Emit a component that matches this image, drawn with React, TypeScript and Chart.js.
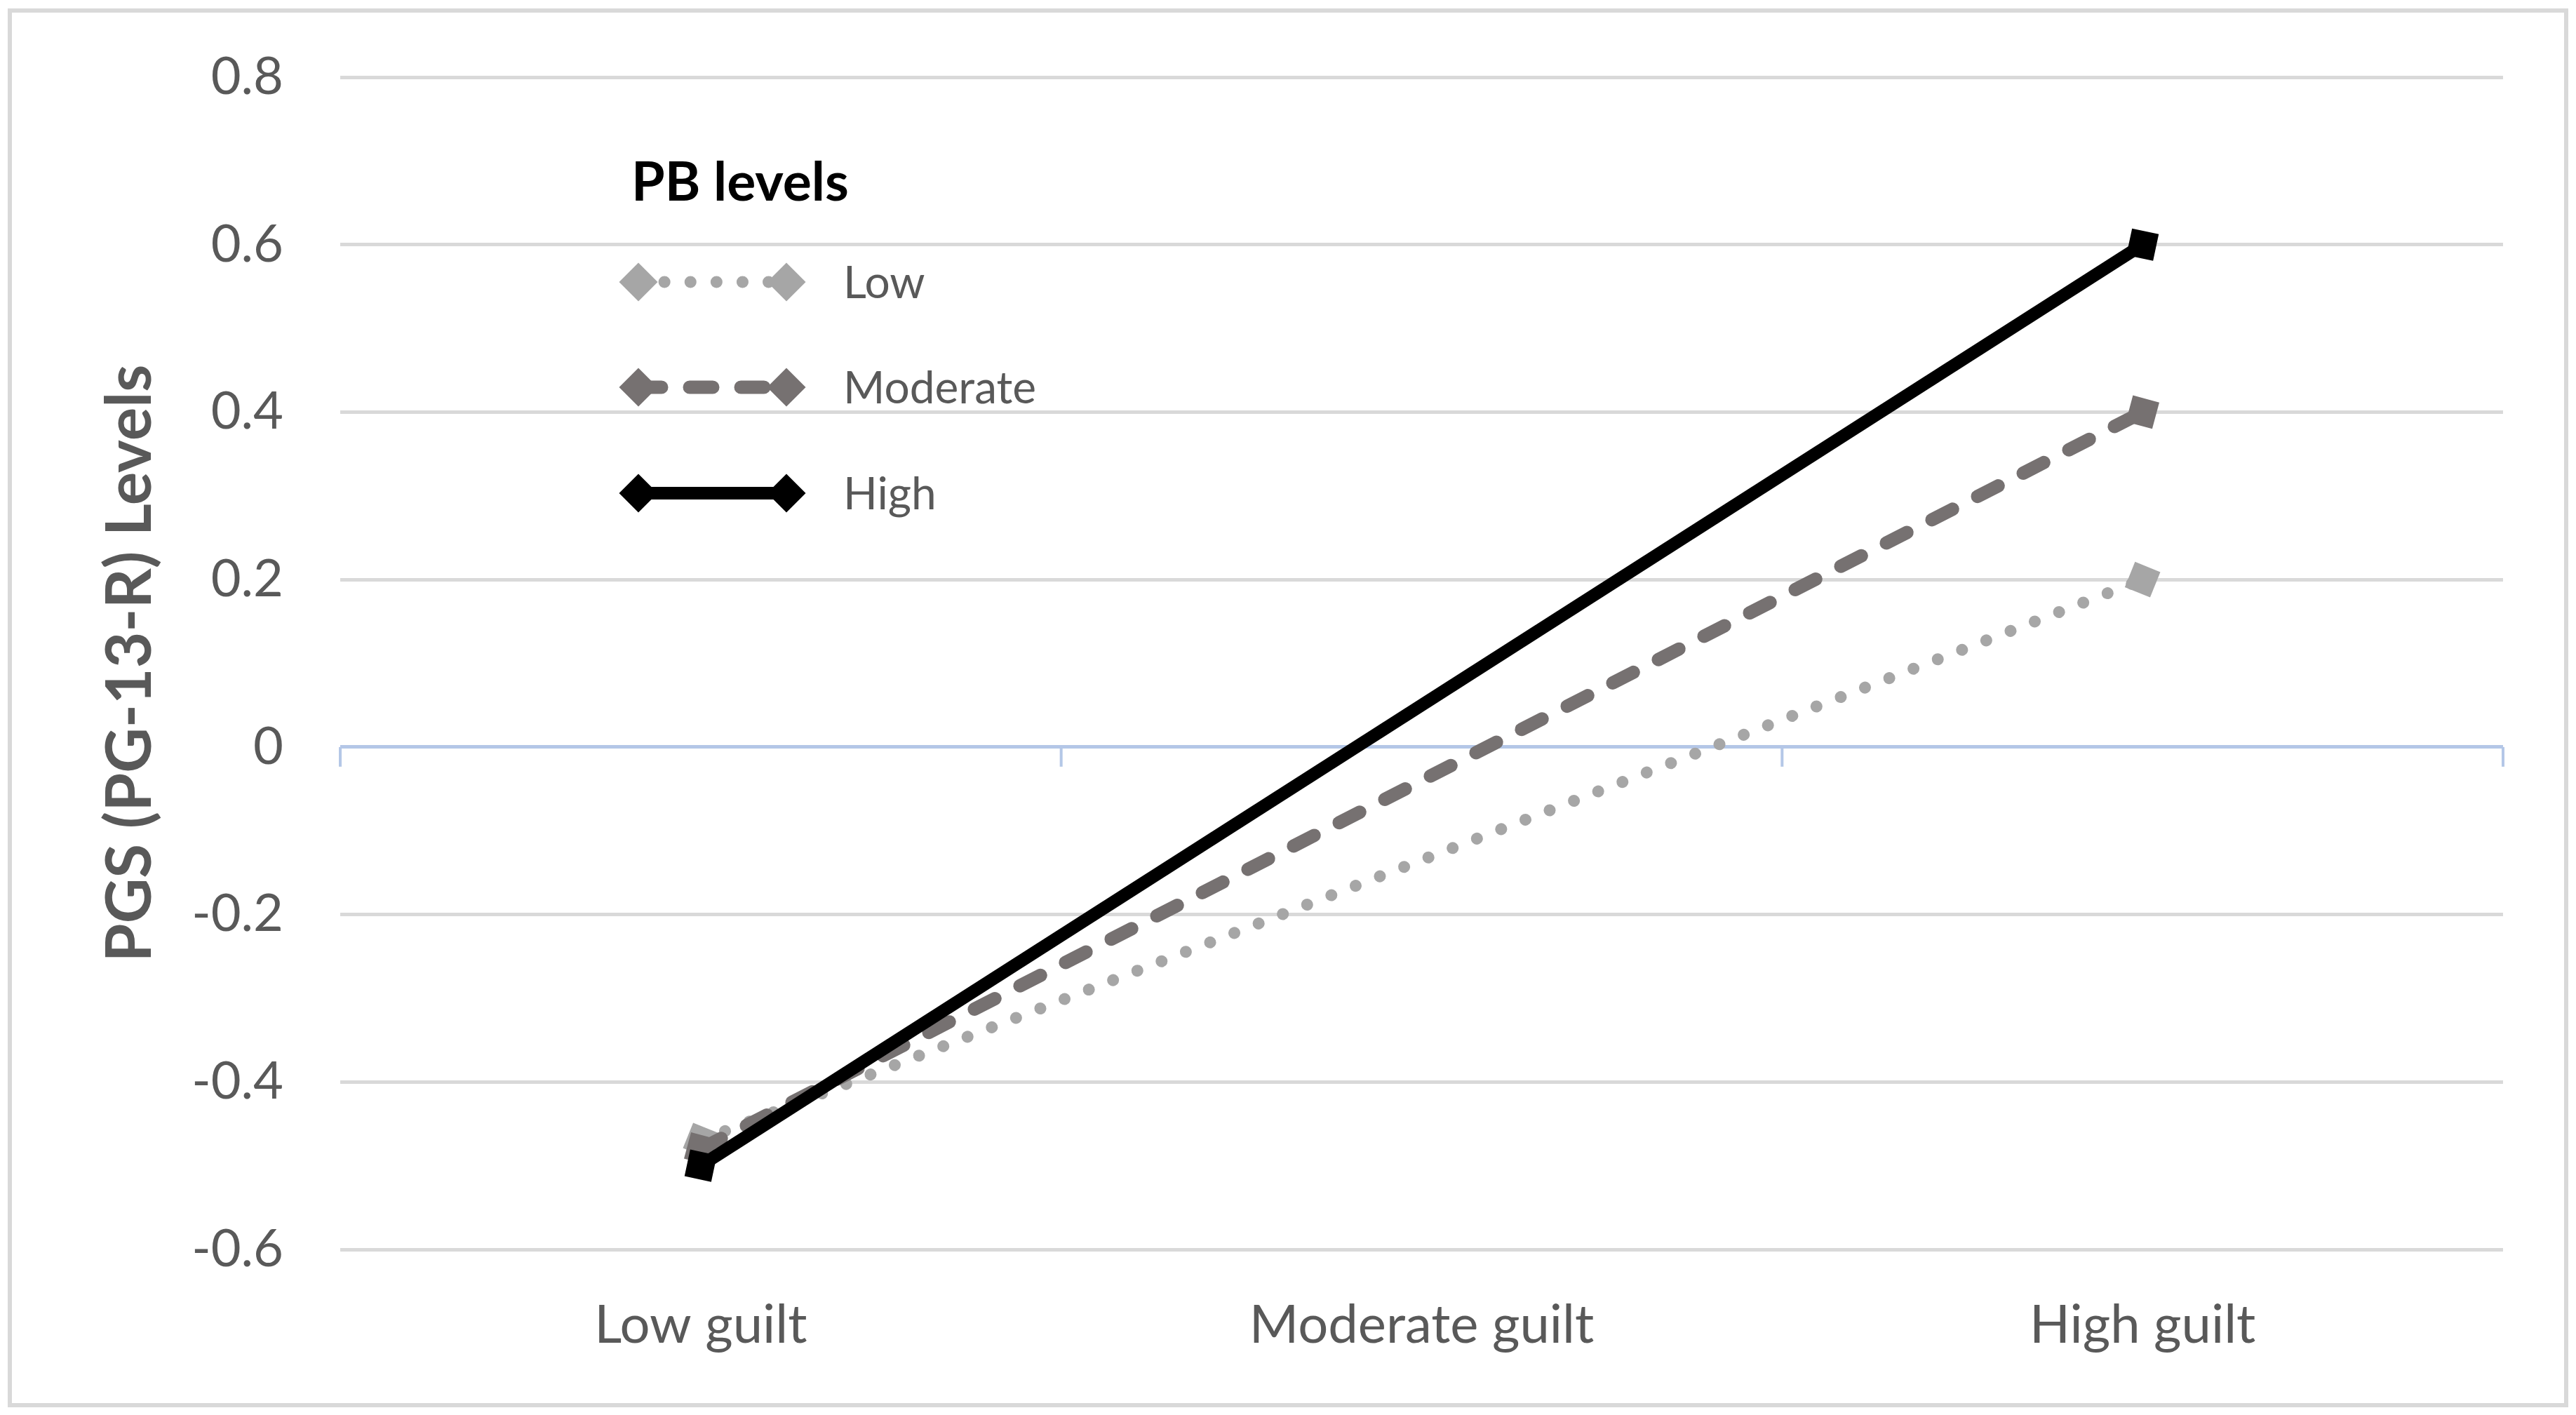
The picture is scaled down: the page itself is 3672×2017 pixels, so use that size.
import { useEffect, useRef } from 'react';
import { Chart, registerables } from 'chart.js';

Chart.register(...registerables);

// ---- data ----
const categories = ['Low guilt', 'Moderate guilt', 'High guilt'];
const seriesNames = ['Low', 'Moderate', 'High'];
const lowValues = [-0.47, null, 0.2];
const moderateValues = [-0.48, null, 0.4];
const highValues = [-0.5, null, 0.6];
const legendTitle = 'PB levels';
const yAxisTitle = 'PGS (PG-13-R) Levels';
const yMin = -0.6;
const yMax = 0.8;
const yStep = 0.2;

// ---- styles ----
const W = 3672;
const H = 2017;
const PLOT = { left: 485, right: 3568, top: 110, bottom: 1781 };
const FONT = 'Lato, "Open Sans", sans-serif';
const TEXT = '#595959';
const GRID = '#d9d9d9';
const AXIS_BLUE = '#b4c7e7';

const seriesStyles = [
  { color: '#a6a6a6', width: 17, dash: [0.1, 37], cap: 'round', rotation: 22 },
  { color: '#767171', width: 19, dash: [33, 40], cap: 'round', rotation: 15 },
  { color: '#000000', width: 18, dash: [] as number[], cap: 'butt', rotation: 12 },
];
const seriesValues = [lowValues, moderateValues, highValues];
const MARKER_R = 27.5;

function diamond(ctx: CanvasRenderingContext2D, x: number, y: number, r: number) {
  ctx.beginPath();
  ctx.moveTo(x, y - r);
  ctx.lineTo(x + r, y);
  ctx.lineTo(x, y + r);
  ctx.lineTo(x - r, y);
  ctx.closePath();
  ctx.fill();
}

const framePlugin = {
  id: 'frame',
  beforeDraw(chart: any) {
    const ctx = chart.ctx as CanvasRenderingContext2D;
    ctx.save();
    ctx.fillStyle = '#ffffff';
    ctx.fillRect(0, 0, W, H);
    ctx.strokeStyle = GRID;
    ctx.lineWidth = 6;
    ctx.strokeRect(14, 15, 3644, 1988);
    ctx.restore();
  },
  beforeDatasetsDraw(chart: any) {
    const ctx = chart.ctx as CanvasRenderingContext2D;
    const area = chart.chartArea;
    const y0 = chart.scales.y.getPixelForValue(0);
    ctx.save();
    ctx.strokeStyle = AXIS_BLUE;
    ctx.lineWidth = 4;
    const n = categories.length;
    for (let i = 0; i <= n; i++) {
      const x = area.left + (i * (area.right - area.left)) / n;
      ctx.beginPath();
      ctx.moveTo(x, y0);
      ctx.lineTo(x, y0 + 28);
      ctx.stroke();
    }
    ctx.restore();
  },
};

const legendPlugin = {
  id: 'customLegend',
  afterDatasetsDraw(chart: any) {
    const ctx = chart.ctx as CanvasRenderingContext2D;
    ctx.save();
    ctx.fillStyle = '#000000';
    ctx.font = `bold 77px ${FONT}`;
    ctx.textBaseline = 'alphabetic';
    ctx.textAlign = 'left';
    ctx.fillText(legendTitle, 900, 286);

    const x1 = 910;
    const x2 = 1121;
    const rows = [402, 552, 703];
    seriesNames.forEach((name, i) => {
      const s = seriesStyles[i];
      const y = rows[i];
      ctx.strokeStyle = s.color;
      ctx.fillStyle = s.color;
      ctx.lineWidth = s.width;
      ctx.lineCap = s.cap as CanvasLineCap;
      ctx.setLineDash(s.dash);
      ctx.beginPath();
      ctx.moveTo(x1, y);
      ctx.lineTo(x2, y);
      ctx.stroke();
      ctx.setLineDash([]);
      diamond(ctx, x1, y, MARKER_R);
      diamond(ctx, x2, y, MARKER_R);
      ctx.fillStyle = TEXT;
      ctx.font = `64px ${FONT}`;
      ctx.fillText(name, 1202, y + 23);
    });
    ctx.restore();
  },
};

export default function App() {
  const ref = useRef<HTMLCanvasElement>(null);

  useEffect(() => {
    document.body.style.margin = '0';
    document.body.style.overflow = 'hidden';
    const canvas = ref.current;
    if (!canvas) return;

    const datasets = seriesNames.map((name, i) => {
      const s = seriesStyles[i];
      return {
        label: name,
        data: seriesValues[i],
        borderColor: s.color,
        backgroundColor: s.color,
        borderWidth: s.width,
        borderDash: s.dash,
        borderCapStyle: s.cap,
        borderJoinStyle: 'round',
        pointStyle: 'rect',
        pointRotation: s.rotation,
        pointRadius: MARKER_R,
        pointBorderWidth: 0,
        pointBackgroundColor: s.color,
        pointBorderColor: s.color,
        spanGaps: true,
        tension: 0,
        fill: false,
        order: 3 - i,
      };
    });

    const chart = new Chart(canvas, {
      type: 'line',
      data: { labels: categories, datasets: datasets as any },
      options: {
        animation: false,
        responsive: false,
        devicePixelRatio: 1,
        layout: {
          padding: { left: 0, right: W - PLOT.right, top: PLOT.top, bottom: 0 },
        },
        plugins: {
          legend: { display: false },
          tooltip: { enabled: false },
          title: { display: false },
        },
        scales: {
          x: {
            type: 'category',
            offset: true,
            grid: { display: false, drawTicks: false },
            border: { display: false },
            ticks: {
              color: TEXT,
              font: { family: FONT, size: 76 },
              padding: 63,
              maxRotation: 0,
              autoSkip: false,
            },
            afterFit: (scale: any) => {
              scale.height = H - PLOT.bottom;
              scale.paddingLeft = 0;
              scale.paddingRight = 0;
            },
          },
          y: {
            min: yMin,
            max: yMax,
            grid: {
              drawTicks: false,
              lineWidth: 5,
              color: (c: any) =>
                c.tick && Math.abs(c.tick.value) < 1e-9 ? AXIS_BLUE : GRID,
            },
            border: { display: false },
            ticks: {
              stepSize: yStep,
              color: TEXT,
              font: { family: FONT, size: 74 },
              padding: 81,
              callback: (v: any) => String(parseFloat(Number(v).toFixed(1))),
            },
            title: {
              display: true,
              text: yAxisTitle,
              color: TEXT,
              font: { family: FONT, size: 89, weight: 'bold', lineHeight: 1 },
              padding: { top: 142, bottom: 0 },
            },
            afterFit: (scale: any) => {
              scale.width = PLOT.left;
              scale.paddingTop = 0;
              scale.paddingBottom = 0;
            },
          },
        },
      },
      plugins: [framePlugin, legendPlugin],
    });

    return () => chart.destroy();
  }, []);

  return (
    <div style={{ width: W, height: H }}>
      <canvas ref={ref} width={W} height={H} style={{ display: 'block', width: W, height: H }} />
    </div>
  );
}
